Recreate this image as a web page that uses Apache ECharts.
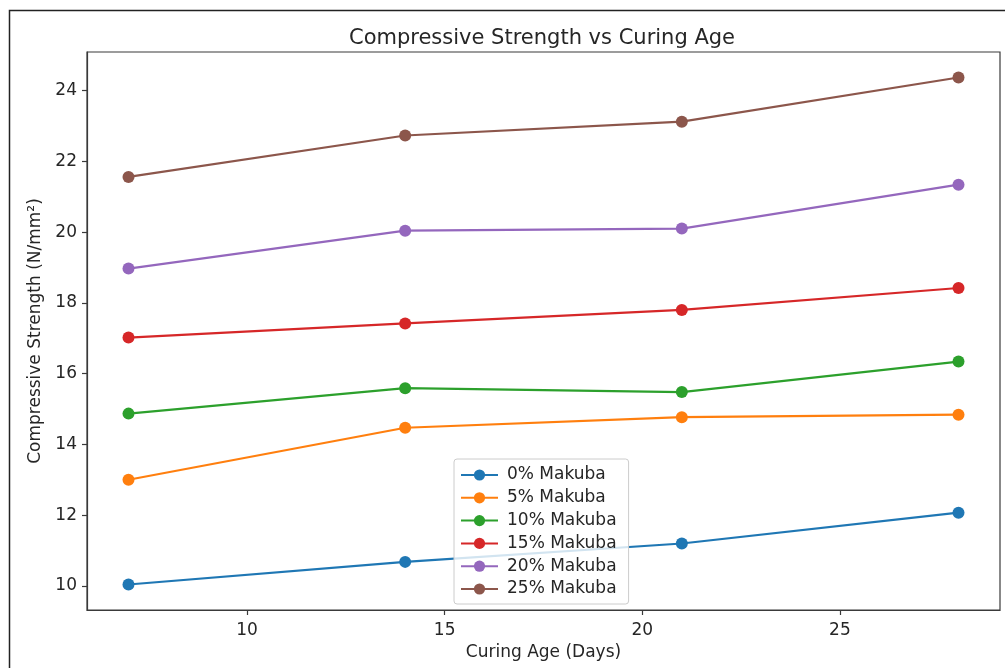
<!DOCTYPE html>
<html>
<head>
<meta charset="utf-8">
<script src="https://cdn.jsdelivr.net/npm/echarts@6/dist/echarts.min.js"></script>
<style>
  html, body { margin: 0; padding: 0; background: #fff; }
  #main { width: 1005px; height: 668px; }
</style>
</head>
<body>
<div id="main"></div>
<script>
// curing age in days
var days = [7, 14, 21, 28];

// compressive strength (N/mm²) per Makuba replacement level
var makuba0 = [10.04, 10.68, 11.20, 12.07];
var makuba5 = [13.00, 14.47, 14.77, 14.84];
var makuba10 = [14.87, 15.59, 15.48, 16.34];
var makuba15 = [17.02, 17.42, 17.80, 18.42];
var makuba20 = [18.97, 20.04, 20.10, 21.34];
var makuba25 = [21.56, 22.73, 23.12, 24.37];

var seriesNames = ["0% Makuba", "5% Makuba", "10% Makuba", "15% Makuba", "20% Makuba", "25% Makuba"];
var seriesValues = [makuba0, makuba5, makuba10, makuba15, makuba20, makuba25];

// tick labels
var xTicks = [10, 15, 20, 25];
var yTicks = [10, 12, 14, 16, 18, 20, 22, 24];

// matplotlib tab10
var colors = ["#1f77b4", "#ff7f0e", "#2ca02c", "#d62728", "#9467bd", "#8c564b"];

var font = "DejaVu Sans";
var textColor = "#262626";
var spineColor = "#3a3a3a";

var series = seriesNames.map(function(name, i) {
  return {
    name: name,
    type: "line",
    data: days.map(function(d, j) { return [d, seriesValues[i][j]]; }),
    symbol: "circle",
    symbolSize: 12,
    showAllSymbol: true,
    lineStyle: { width: 2.2, color: colors[i] },
    itemStyle: { color: colors[i] },
    emphasis: { disabled: true },
    animation: false
  };
});

var chart = echarts.init(document.getElementById("main"));

chart.setOption({
  animation: false,
  color: colors,
  title: {
    text: "Compressive Strength vs Curing Age",
    left: 542,
    top: 28,
    padding: 0,
    textAlign: "center",
    textStyle: { fontFamily: font, fontSize: 21, fontWeight: "normal", color: textColor }
  },
  legend: {
    orient: "vertical",
    left: 454,
    top: 459,
    padding: [6, 12, 5, 6],
    itemWidth: 37,
    itemHeight: 14,
    itemGap: 2.8,
    textStyle: { fontFamily: font, fontSize: 17, color: textColor, lineHeight: 20, padding: [0, 0, 0, 4] },
    backgroundColor: "rgba(255,255,255,0.8)",
    borderColor: "#cccccc",
    borderWidth: 1,
    borderRadius: 3,
    data: seriesNames
  },
  grid: {
    left: 87,
    right: 5,
    top: 52,
    bottom: 58,
    show: true,
    borderColor: spineColor,
    borderWidth: 1.2,
    backgroundColor: "#fff",
    outerBoundsMode: "none"
  },
  xAxis: {
    type: "value",
    min: 5.95,
    max: 29.05,
    name: "Curing Age (Days)",
    nameLocation: "middle",
    nameGap: 33,
    nameTextStyle: { fontFamily: font, fontSize: 17, color: textColor },
    axisLine: { show: true, lineStyle: { color: spineColor, width: 1.2 } },
    axisTick: { show: true, length: 5, customValues: xTicks, lineStyle: { color: spineColor, width: 1.2 } },
    axisLabel: { customValues: xTicks, margin: 12, fontFamily: font, fontSize: 17, color: textColor },
    splitLine: { show: false }
  },
  yAxis: {
    type: "value",
    min: 9.32,
    max: 25.09,
    name: "Compressive Strength (N/mm²)",
    nameLocation: "middle",
    nameGap: 43,
    nameRotate: 90,
    nameTextStyle: { fontFamily: font, fontSize: 17, color: textColor },
    axisLine: { show: true, lineStyle: { color: spineColor, width: 1.2 } },
    axisTick: { show: true, length: 5, customValues: yTicks, lineStyle: { color: spineColor, width: 1.2 } },
    axisLabel: { customValues: yTicks, margin: 10, fontFamily: font, fontSize: 17, color: textColor },
    splitLine: { show: false }
  },
  graphic: [
    {
      type: "rect",
      silent: true,
      z: -10,
      shape: { x: 9.5, y: 10.5, width: 1010, height: 680 },
      style: { fill: "none", stroke: "#222", lineWidth: 1.5 }
    }
  ],
  series: series
});
</script>
</body>
</html>
